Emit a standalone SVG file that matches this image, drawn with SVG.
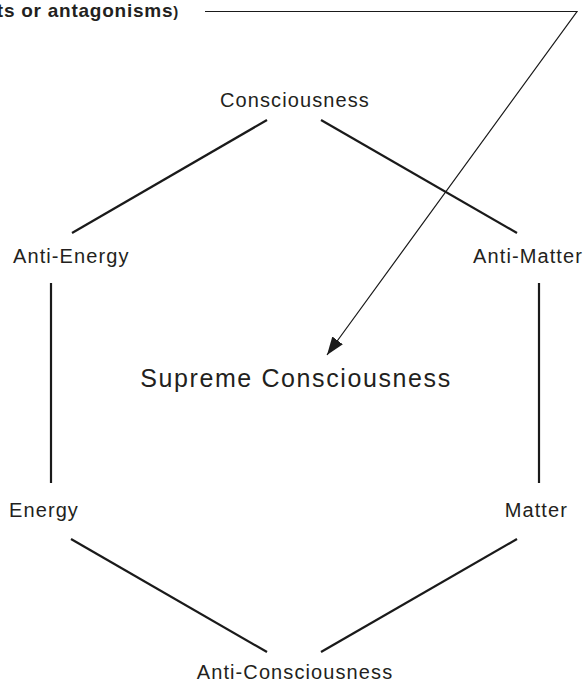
<svg xmlns="http://www.w3.org/2000/svg" width="588" height="683" viewBox="0 0 588 683">
<defs>
<style>
.lbl{font-family:"Liberation Sans",Arial,Helvetica,sans-serif;font-size:20px;letter-spacing:1.1px;fill:#231f20}
.big{font-family:"Liberation Sans",Arial,Helvetica,sans-serif;font-size:25px;letter-spacing:1.6px;fill:#231f20}
.note{font-family:"Liberation Sans",Arial,Helvetica,sans-serif;font-size:19px;font-weight:bold;letter-spacing:0.75px;fill:#231f20}
.edge{stroke:#1a1a1a;stroke-width:2.2;fill:none;stroke-linecap:butt}
.thin{stroke:#1a1a1a;stroke-width:1.2;fill:none}
</style>
<marker id="arr" markerUnits="userSpaceOnUse" markerWidth="20" markerHeight="14" refX="18" refY="6.5" orient="auto">
<path d="M0,0 L18,6.5 L0,13 Z" fill="#1a1a1a"/>
</marker>
</defs>
<g id="note"><text class="note" x="179" y="17" text-anchor="end">ts or antagonisms<tspan font-size="15">)</tspan></text></g>
<g id="n-consciousness"><text class="lbl" x="295" y="107" text-anchor="middle">Consciousness</text></g>
<g id="n-anti-energy"><text class="lbl" x="13" y="263">Anti-Energy</text></g>
<g id="n-anti-matter"><text class="lbl" x="583" y="263" text-anchor="end">Anti-Matter</text></g>
<g id="n-supreme"><text class="big" x="296" y="387" text-anchor="middle">Supreme Consciousness</text></g>
<g id="n-energy"><text class="lbl" x="9" y="517">Energy</text></g>
<g id="n-matter"><text class="lbl" x="568" y="517" text-anchor="end">Matter</text></g>
<g id="n-anti-consciousness"><text class="lbl" x="295" y="679" text-anchor="middle">Anti-Consciousness</text></g>
<g id="connectors">
<line class="edge" x1="267" y1="120" x2="72" y2="233"/>
<line class="edge" x1="321" y1="120" x2="517" y2="233"/>
<line class="edge" x1="51" y1="283" x2="51" y2="483"/>
<line class="edge" x1="539" y1="283" x2="539" y2="483"/>
<line class="edge" x1="71" y1="539" x2="267" y2="652"/>
<line class="edge" x1="517" y1="539" x2="321" y2="652"/>
<polyline class="thin" points="205,11.5 577,11.5 327,355" marker-end="url(#arr)"/>
</g>
</svg>
